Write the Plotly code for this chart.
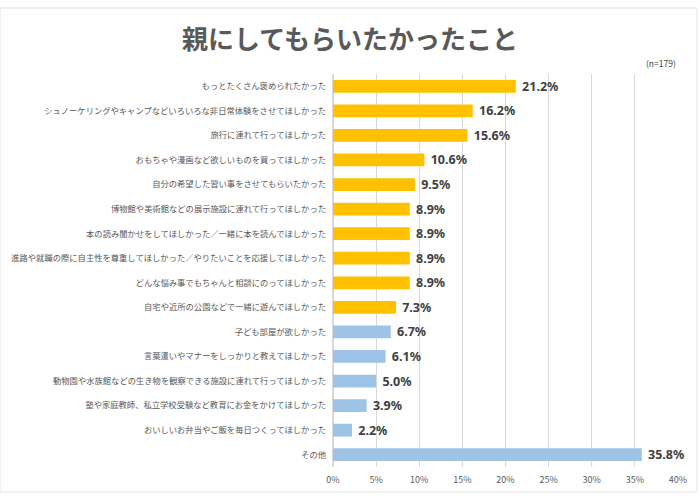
import plotly.graph_objects as go

categories = [
    "もっとたくさん褒められたかった",
    "シュノーケリングやキャンプなどいろいろな非日常体験をさせてほしかった",
    "旅行に連れて行ってほしかった",
    "おもちゃや漫画など欲しいものを買ってほしかった",
    "自分の希望した習い事をさせてもらいたかった",
    "博物館や美術館などの展示施設に連れて行ってほしかった",
    "本の読み聞かせをしてほしかった／一緒に本を読んでほしかった",
    "進路や就職の際に自主性を尊重してほしかった／やりたいことを応援してほしかった",
    "どんな悩み事でもちゃんと相談にのってほしかった",
    "自宅や近所の公園などで一緒に遊んでほしかった",
    "子ども部屋が欲しかった",
    "言葉遣いやマナーをしっかりと教えてほしかった",
    "動物園や水族館などの生き物を観察できる施設に連れて行ってほしかった",
    "塾や家庭教師、私立学校受験など教育にお金をかけてほしかった",
    "おいしいお弁当やご飯を毎日つくってほしかった",
    "その他",
]
values = [21.2, 16.2, 15.6, 10.6, 9.5, 8.9, 8.9, 8.9, 8.9, 7.3, 6.7, 6.1, 5.0, 3.9, 2.2, 35.8]
highlight_count = 10
tick_vals = [0, 5, 10, 15, 20, 25, 30, 35, 40]
tick_text = ["0%", "5%", "10%", "15%", "20%", "25%", "30%", "35%", "40%"]

colors = ["#FFC000" if i < highlight_count else "#9DC3E6" for i in range(len(values))]

FONT = "Noto Sans CJK JP"

fig = go.Figure(go.Bar(
    x=values,
    y=categories,
    orientation="h",
    marker=dict(color=colors, line=dict(width=0)),
    text=[f" {v:.1f}%" for v in values],
    textposition="outside",
    constraintext="none",
    textfont=dict(family="Noto Sans", size=12.5, color="#404040", weight="bold"),
    cliponaxis=False,
    hoverinfo="skip",
))

fig.update_layout(
    width=700,
    height=500,
    paper_bgcolor="white",
    plot_bgcolor="white",
    margin=dict(l=333, r=22, t=74, b=33, autoexpand=False),
    bargap=0.48,
    showlegend=False,
    font=dict(family=FONT, color="#595959"),
    title=dict(
        text="<b>親にしてもらいたかったこと</b>",
        x=0.5, xref="container", xanchor="center",
        y=0.92, yref="container", yanchor="middle",
        font=dict(family=FONT, size=26, color="#595959"),
    ),
    xaxis=dict(
        range=[0, 40],
        tickvals=tick_vals,
        ticktext=tick_text,
        showgrid=True,
        gridcolor="#d9d9d9",
        gridwidth=1,
        zeroline=True,
        zerolinecolor="#d9d9d9",
        showline=False,
        tickfont=dict(family=FONT, size=9, color="#595959"),
        ticks="",
        ticklabelstandoff=6,
        automargin=False,
        fixedrange=True,
    ),
    yaxis=dict(
        autorange="reversed",
        tickfont=dict(family=FONT, size=8.3, color="#595959"),
        ticks="",
        ticklabelstandoff=6,
        showgrid=False,
        automargin=False,
        fixedrange=True,
    ),
    shapes=[dict(
        type="rect", xref="paper", yref="paper",
        x0=-333/345, x1=1 + 19/345, y0=-25/393, y1=1 + 66/393,
        line=dict(color="#e3e3e3", width=1), fillcolor="rgba(0,0,0,0)", layer="below",
    )],
    annotations=[dict(
        text="(n=179)", xref="paper", yref="paper",
        x=1, y=1 + 11/393, xanchor="right", yanchor="middle",
        showarrow=False, font=dict(family=FONT, size=8.5, color="#404040"),
    )],
)

fig.write_html("out.html", config={"displayModeBar": False},
               post_script="document.body.style.margin='0';")
